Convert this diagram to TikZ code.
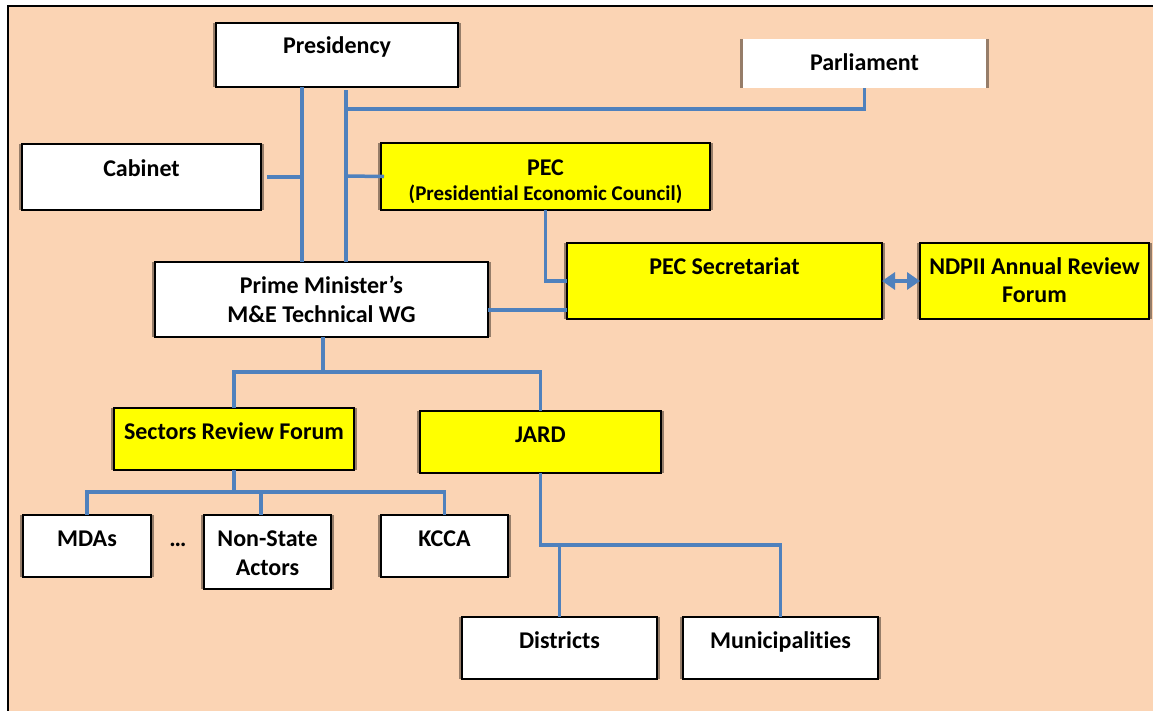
\documentclass[tikz,border=0pt]{standalone}
\usepackage{fontspec}
\setmainfont{Carlito}[Ligatures=NoCommon]
\usetikzlibrary{arrows.meta,calc}
\definecolor{peach}{RGB}{251,212,180}
\definecolor{linkblue}{RGB}{79,129,189}
\definecolor{shadowc}{RGB}{150,125,105}
\definecolor{boxyellow}{RGB}{255,255,0}
\pgfdeclarelayer{back}
\pgfdeclarelayer{bg}
\pgfsetlayers{back,bg,main}
\tikzset{
  box/.style={draw=black, line width=1.3pt, anchor=north west, inner sep=0pt, outer sep=0pt},
  wbox/.style={box, fill=white},
  ybox/.style={box, fill=boxyellow},
  pbox/.style={anchor=north west, inner sep=0pt, outer sep=0pt, fill=white},
  lbl/.style={font=\fontsize{24}{29}\selectfont\bfseries, anchor=base, align=center, inner sep=0pt},
  conn/.style={draw=linkblue, line width=3.5pt},
  dblarrow/.style={draw=linkblue, line width=4pt, {Triangle[width=17pt,length=13pt]}-{Triangle[width=17pt,length=13pt]}},
}
\begin{document}
\begin{tikzpicture}[x=1pt,y=-1pt]
\useasboundingbox (0,0) rectangle (1153,710);
\clip (0,0) rectangle (1153,710);
\begin{pgfonlayer}{back}
  \fill[white] (0,0) rectangle (1153,710);
  \fill[peach] (8,6) rectangle (1170,730);
  \draw[black, line width=2pt] (8,730) -- (8,6) -- (1170,6);
\end{pgfonlayer}

% boxes
\node[wbox, minimum width=242pt, minimum height=64pt] (pres) at (216,23) {};
\node[pbox, minimum width=243pt, minimum height=49pt] (parl) at (743,39) {};
\node[wbox, minimum width=239pt, minimum height=66pt] (cab) at (22,144) {};
\node[ybox, minimum width=329pt, minimum height=67pt] (pec) at (381,143) {};
\node[ybox, minimum width=315pt, minimum height=76pt] (sec) at (567,243) {};
\node[ybox, minimum width=229pt, minimum height=76pt] (nd) at (920,243) {};
\node[wbox, minimum width=333pt, minimum height=75pt] (pm) at (155,262) {};
\node[ybox, minimum width=240pt, minimum height=62pt] (srf) at (114,408) {};
\node[ybox, minimum width=241pt, minimum height=62pt] (jard) at (420,411) {};
\node[wbox, minimum width=128pt, minimum height=62pt] (mda) at (23,515) {};
\node[wbox, minimum width=127pt, minimum height=74pt] (nsa) at (204,515) {};
\node[wbox, minimum width=127pt, minimum height=62pt] (kcca) at (381,515) {};
\node[wbox, minimum width=195pt, minimum height=62pt] (dis) at (462,617) {};
\node[wbox, minimum width=195pt, minimum height=62pt] (mun) at (683,617) {};

% shadows
\begin{pgfonlayer}{bg}
  \foreach \n in {pres,parl,cab,pec,sec,nd,pm,srf,jard,mda,nsa,kcca,dis,mun}
    \fill[shadowc] ($(\n.north west)+(-3,0)$) rectangle ($(\n.south east)+(3,0)$);
\end{pgfonlayer}

% labels (anchor base = baseline of the last line)
\node[lbl] (presT) at (337,53) {Presidency};
\node[lbl] (parlT) at (864.5,70) {Parliament};
\node[lbl] (cabT) at (141.5,176) {Cabinet};
\node[lbl, font=\fontsize{24}{25}\selectfont\bfseries] (pecT) at (545.5,200) {PEC\\{\fontsize{21}{25}\selectfont(Presidential Economic Council)}};
\node[lbl] (secT) at (724.5,274) {PEC Secretariat};
\node[lbl, font=\fontsize{24}{28}\selectfont\bfseries] (ndT) at (1034.5,302) {NDPII Annual Review\\Forum};
\node[lbl] (pmT) at (321.5,322) {Prime Minister’s\\M\&E Technical WG};
\node[lbl] (srfT) at (234,439) {Sectors Review Forum};
\node[lbl] (jardT) at (540.5,442) {JARD};
\node[lbl] (mdaT) at (87,546) {MDAs};
\node[lbl] (dotsT) at (178,546) {…};
\node[lbl] (nsaT) at (267.5,575) {Non-State\\Actors};
\node[lbl] (kccaT) at (444.5,546) {KCCA};
\node[lbl] (disT) at (559.5,648) {Districts};
\node[lbl] (munT) at (780.5,648) {Municipalities};

% junction coordinates
\coordinate (v1) at (302,177);
\coordinate (v2) at (346,109);
\coordinate (pecJ) at (346,176);
\coordinate (pmJ) at (488,310);
\coordinate (h1) at (323,372);
\coordinate (h2) at (234,492);
\coordinate (nsaJ) at (261,492);
\coordinate (h3) at (600,545);

% connectors
\draw[conn] (pres.south -| v1) -- (pm.north -| v1);
\draw[conn] ($(cab.east)+(6,0)$) -- (v1);
\draw[conn] ($(pres.south -| v2)+(0,3)$) -- (pm.north -| v2);
\draw[conn] (v2) -| (parl.south);
\draw[conn] (pecJ) -- ($(pec.west)+(3,0)$);
\draw[conn] (pec.south) |- (sec.west);
\draw[conn] (pmJ) -- (sec.west |- pmJ);
\draw[dblarrow] (sec.east) -- (nd.west);
\draw[conn] (pm.south -| h1) -- (h1);
\draw[conn] (srf.north) |- (h1) -| (jard.north);
\draw[conn] (srf.south) -- (h2);
\draw[conn] (mda.north) |- (h2) -| (kcca.north);
\draw[conn] (nsaJ) -- (nsa.north -| nsaJ);
\draw[conn] (jard.south) |- (h3) -| (mun.north);
\draw[conn] (dis.north) -- (dis.north |- h3);
\end{tikzpicture}
\end{document}
